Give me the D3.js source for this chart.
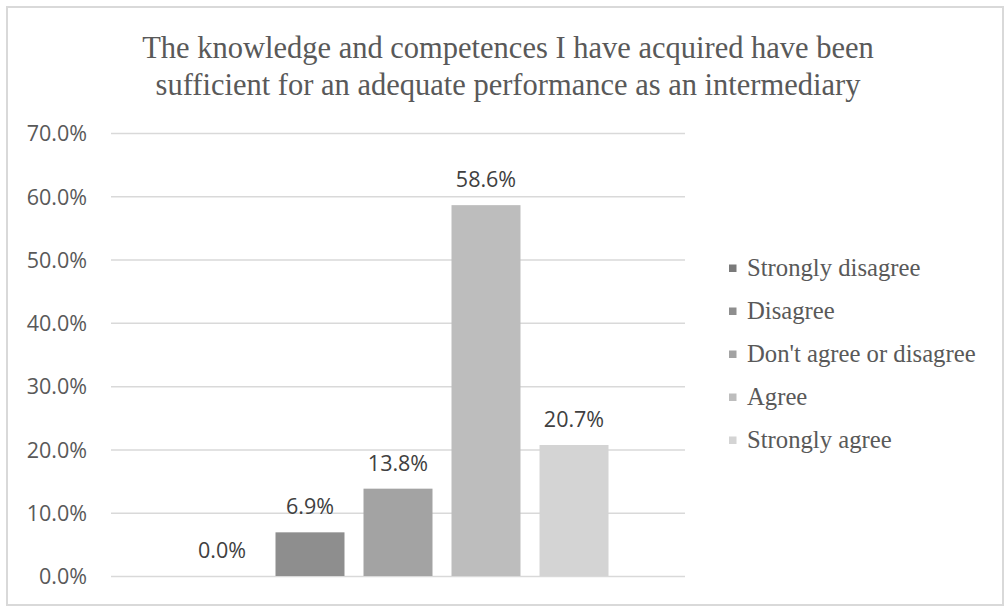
<!DOCTYPE html>
<html><head><meta charset="utf-8">
<script src="https://cdn.jsdelivr.net/npm/d3@7"></script>
<style>html,body{margin:0;padding:0;background:#fff;}</style>
</head><body>
<svg id="chart" width="1005" height="608"></svg>
<script>
const titleLines = ["The knowledge and competences I have acquired have been",
                    "sufficient for an adequate performance as an intermediary"];
const category = ["Response"];
const series = ["Strongly disagree", "Disagree", "Don't agree or disagree", "Agree", "Strongly agree"];
const values = [0.0, 6.9, 13.8, 58.6, 20.7];
const colors = ["#7a7a7a", "#8e8e8e", "#a3a3a3", "#bdbdbd", "#d4d4d4"];
const yTicks = [0, 10, 20, 30, 40, 50, 60, 70];

const svg = d3.select("#chart");
const m = {left: 111, right: 685, top: 133, bottom: 576};

svg.append("rect").attr("x", 7).attr("y", 7).attr("width", 996).attr("height", 598)
  .attr("fill", "#fff").attr("stroke", "#d9d9d9").attr("stroke-width", 2);

const y = d3.scaleLinear().domain([0, 70]).range([m.bottom, m.top]);
const x0 = d3.scaleBand().domain(category).range([m.left, m.right]).paddingOuter(0.1817).paddingInner(0);
const x1 = d3.scaleBand().domain(series).range([0, x0.bandwidth()]).paddingInner(0.216).paddingOuter(0);
const color = d3.scaleOrdinal().domain(series).range(colors);

// gridlines + tick labels
const yAxis = d3.axisLeft(y).tickValues(yTicks).tickSize(-(m.right - m.left)).tickFormat(d => d.toFixed(1) + "%");
const gy = svg.append("g").attr("transform", `translate(${m.left},0)`).call(yAxis);
gy.select(".domain").remove();
gy.selectAll(".tick line").attr("stroke", "#d9d9d9").attr("stroke-width", 1.5);
gy.selectAll(".tick text").attr("x", -24).attr("dy", "0.36em")
  .style("font-family", "'Open Sans', sans-serif").style("font-size", "21.5px").attr("fill", "#595959");

// bars
const g = svg.append("g").attr("transform", `translate(${x0(category[0])},0)`);
g.selectAll("rect.bar").data(series).join("rect").attr("class", "bar")
  .attr("x", d => x1(d)).attr("width", x1.bandwidth())
  .attr("y", (d, i) => y(values[i])).attr("height", (d, i) => y(0) - y(values[i]))
  .attr("fill", d => color(d));
g.selectAll("text.lbl").data(series).join("text").attr("class", "lbl")
  .attr("x", d => x1(d) + x1.bandwidth() / 2)
  .attr("y", (d, i) => y(values[i]) - 18)
  .attr("text-anchor", "middle")
  .style("font-family", "'Open Sans', sans-serif").style("font-size", "21.5px").attr("fill", "#404040")
  .text((d, i) => values[i].toFixed(1) + "%");

// title
svg.append("g").selectAll("text").data(titleLines).join("text")
  .attr("x", 508).attr("y", (d, i) => 58 + i * 37)
  .attr("text-anchor", "middle")
  .style("font-family", "'Liberation Serif', 'Times New Roman', serif").style("font-size", "30.5px").attr("fill", "#595959")
  .text(d => d);

// legend
const lg = svg.append("g").attr("transform", "translate(729,0)");
const rows = lg.selectAll("g").data(series).join("g")
  .attr("transform", (d, i) => `translate(0,${268 + i * 43})`);
rows.append("rect").attr("x", 0).attr("y", -3.5).attr("width", 7.5).attr("height", 7.5).attr("fill", d => color(d));
rows.append("text").attr("x", 18).attr("dy", "0.33em")
  .style("font-family", "'Liberation Serif', 'Times New Roman', serif").style("font-size", "24.7px").attr("fill", "#595959")
  .text(d => d);
</script>
</body></html>
